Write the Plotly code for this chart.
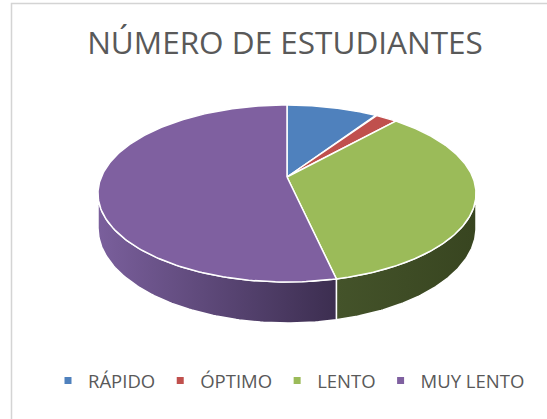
import numpy as np
import plotly.graph_objects as go

# ---- data ----
categories = ["RÁPIDO", "ÓPTIMO", "LENTO", "MUY LENTO"]
students = [4, 1, 15, 23]
title_text = "NÚMERO DE ESTUDIANTES"

# ---- style ----
top_colors = ["#4F81BD", "#C0504D", "#9BBB59", "#7F60A0"]
wall_left = ["#3C6391", "#933C3A", "#44532A", "#7A5F9C"]
wall_right = ["#2E4C70", "#72302E", "#384520", "#3C2E50"]
FONT = "Open Sans"
TXT = "#595959"

# pseudo-3D projection parameters (pixel space)
W, H = 547, 419
CX, CY = 287.0, 177.0
RX, RY, K, DEPTH = 185.7, 85.4, -0.1864, 33.4


def proj(theta_deg, drop=0.0):
    t = np.radians(theta_deg)
    X, Y = np.sin(t), -np.cos(t)
    s = 1.0 / (1.0 + K * Y)
    return CX + RX * X * s, CY + RY * Y * s + drop * s


total = float(sum(students))
bounds = np.concatenate([[0.0], np.cumsum(students) / total * 360.0])
vis_lo = np.degrees(np.arccos(K))          # right silhouette
vis_hi = 360.0 - vis_lo                     # left silhouette

fig = go.Figure()

# side walls (only the visible front part)
for i, name in enumerate(categories):
    a, b = max(bounds[i], vis_lo), min(bounds[i + 1], vis_hi)
    if b <= a:
        continue
    th = np.linspace(a, b, 120)
    xt, yt = proj(th)
    xb, yb = proj(th[::-1], DEPTH)
    xs = np.concatenate([xt, xb, xt[:1]])
    ys = np.concatenate([yt, yb, yt[:1]])
    fig.add_trace(go.Scatter(
        x=xs, y=ys, mode="lines", fill="toself",
        line=dict(color="white", width=1.5),
        fillgradient=dict(type="horizontal",
                          colorscale=[[0, wall_left[i]], [1, wall_right[i]]]),
        hoverinfo="skip", showlegend=False))

# top faces
for i, name in enumerate(categories):
    th = np.linspace(bounds[i], bounds[i + 1], 200)
    xa, ya = proj(th)
    xs = np.concatenate([[CX], xa, [CX]])
    ys = np.concatenate([[CY], ya, [CY]])
    fig.add_trace(go.Scatter(
        x=xs, y=ys, mode="lines", fill="toself",
        fillcolor=top_colors[i], line=dict(color="white", width=1.5),
        name=name, text=f"{name}: {students[i]}", hoverinfo="text",
        showlegend=False))

# legend entries
for i, name in enumerate(categories):
    fig.add_trace(go.Scatter(
        x=[None], y=[None], mode="markers", name=name,
        marker=dict(symbol="square", size=7, color=top_colors[i]),
        showlegend=True))

fig.add_shape(type="rect", x0=11.5, y0=3.5, x1=W + 20, y1=H + 20,
              line=dict(color="#D4D4D4", width=1.5), layer="below")

fig.update_layout(
    width=W, height=H,
    margin=dict(l=0, r=0, t=0, b=0),
    paper_bgcolor="white", plot_bgcolor="white",
    font=dict(family=FONT, color=TXT),
    title=dict(text=title_text, x=285 / W, xanchor="center",
               y=1 - 43 / H, yanchor="middle",
               font=dict(family=FONT, size=31.5, color=TXT)),
    xaxis=dict(range=[0, W], visible=False, fixedrange=True),
    yaxis=dict(range=[H, 0], visible=False, fixedrange=True),
    showlegend=True,
    legend=dict(orientation="h", x=289 / W, xanchor="center",
                y=1 - 381 / H, yanchor="middle",
                font=dict(family=FONT, size=18.5, color=TXT),
                itemwidth=30, bgcolor="rgba(0,0,0,0)"),
)

fig.write_html("out.html", config={"displayModeBar": False},
               post_script="document.body.style.margin='0';")
